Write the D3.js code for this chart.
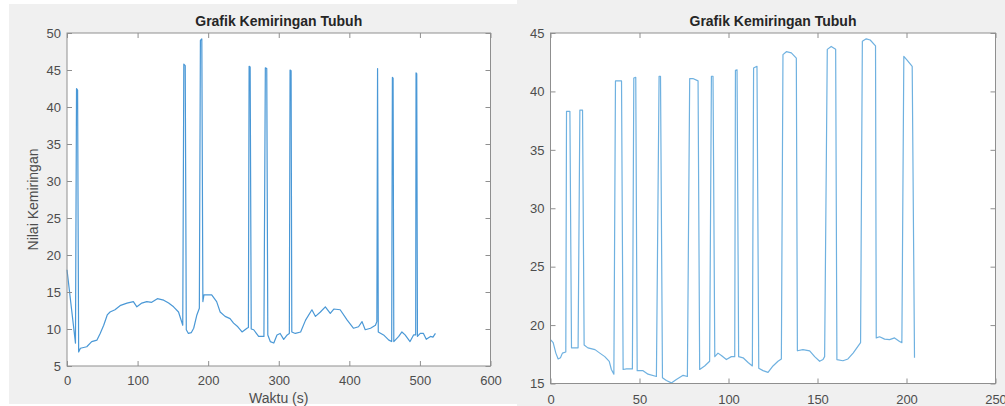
<!DOCTYPE html>
<html>
<head>
<meta charset="utf-8">
<script src="https://cdn.jsdelivr.net/npm/d3@7"></script>
<style>
  body { margin: 0; background: #fff; }
  svg { display: block; font-family: "Liberation Sans", Arial, Helvetica, sans-serif; }
  .tick text { fill: #4d4d4d; font-size: 13px; }
  .tick line { stroke: #8f8f8f; }
</style>
</head>
<body>
<script>
var width = 1005;
var height = 406;

// left plot: Waktu (s) vs Nilai Kemiringan
var leftTime = [0, 12, 13.5, 15, 16.5, 19, 28, 35, 42.5, 47, 52, 57, 61, 68, 76, 85, 94, 99, 106, 113,
  120, 128, 137, 144, 151, 158, 164, 165.5, 167.5, 169, 172, 176, 179.5, 184, 187.5, 189, 191, 192.5, 194, 205,
  212, 217, 224, 231, 236, 242, 248, 255, 257, 258, 259.5, 261, 264.5, 271.5, 279, 281, 283, 284.5, 288, 293,
  297.5, 302, 307, 312, 315, 316, 317.5, 318.5, 323.5, 331, 338, 347, 352, 359, 366, 373, 378, 387, 397, 406,
  413, 418, 422.5, 430, 437, 439, 440, 441, 448.5, 456, 460, 461, 462, 463, 470, 474.5, 479, 486, 491, 494,
  494.5, 495.5, 496.5, 500.5, 505, 509, 515, 518.5, 522];
var leftValue = [18.0, 8.1, 42.5, 42.3, 6.9, 7.4, 7.6, 8.3, 8.5, 9.4, 10.5, 11.9, 12.3, 12.6, 13.2, 13.5, 13.7, 13.0, 13.5, 13.7,
  13.6, 14.1, 13.9, 13.5, 13.0, 12.3, 10.5, 45.8, 45.6, 9.9, 9.4, 9.5, 10.1, 11.9, 12.8, 49.0, 49.2, 13.7, 14.6, 14.6,
  13.7, 12.3, 11.7, 11.4, 10.8, 10.3, 9.6, 10.1, 10.2, 45.5, 45.4, 10.0, 9.9, 9.0, 9.0, 45.3, 45.2, 9.2, 8.3, 8.1,
  9.2, 9.4, 8.6, 9.2, 9.4, 45.0, 44.9, 9.6, 9.4, 9.6, 11.2, 12.6, 11.7, 12.3, 13.0, 12.1, 12.7, 12.6, 11.2, 10.1,
  10.3, 11.0, 9.9, 10.1, 10.5, 11.0, 45.2, 9.6, 9.2, 8.5, 8.3, 44.0, 43.9, 8.3, 9.0, 9.6, 9.2, 8.3, 9.2, 9.2,
  44.6, 44.5, 9.0, 9.4, 9.4, 8.6, 9.0, 8.9, 9.4];
var leftXTicks = [0, 100, 200, 300, 400, 500, 600];
var leftYTicks = [5, 10, 15, 20, 25, 30, 35, 40, 45, 50];

// right plot
var rightTime = [0, 1.5, 3, 4.3, 5.6, 6.7, 8.6, 9, 10.9, 11.8, 15.5, 16.5, 18, 18.9, 21, 25, 27.7, 30.5, 33, 34.2,
  35.6, 36.5, 39.9, 40.8, 42.7, 46, 46.8, 47.9, 48.7, 52, 54.8, 59.5, 61, 61.8, 62.9, 65.1, 67.9, 70.7, 74.5, 76.9,
  78.2, 80, 82.9, 83.8, 86.6, 89.4, 90.4, 91.3, 92.3, 94.1, 96, 98.8, 101.6, 103.5, 103.9, 104.8, 105.7, 108.2, 111, 113.4,
  114.1, 116, 117, 119.4, 122.2, 125, 127.8, 129.7, 130.6, 132.5, 135.3, 138.1, 138.7, 141.8, 145.6, 148.4, 151.2, 153.1, 154, 155.5,
  157.7, 160.2, 160.9, 164.3, 167.1, 170, 172.8, 174.2, 175.2, 177.4, 179.6, 182.6, 183, 184.9, 187.7, 190.5, 193.3, 196.1, 197.4, 198.5,
  200.2, 203.2, 204.5];
var rightValue = [18.76, 18.5, 17.6, 17.1, 17.2, 17.6, 17.7, 38.3, 38.3, 18.05, 18.05, 38.4, 38.4, 18.3, 18.05, 17.9, 17.6, 17.3, 16.9, 16.2,
  15.8, 40.9, 40.9, 16.2, 16.25, 16.25, 41.15, 41.2, 16.1, 16.1, 15.8, 15.6, 41.3, 41.3, 15.5, 15.25, 15.05, 15.35, 15.7, 15.6,
  41.1, 41.1, 40.9, 16.2, 16.5, 16.9, 41.3, 41.3, 17.3, 17.6, 17.4, 17.05, 17.3, 17.3, 41.8, 41.85, 17.3, 17.2, 16.8, 16.5,
  42.0, 42.15, 16.3, 16.1, 15.95, 16.5, 16.9, 17.1, 43.15, 43.4, 43.3, 42.85, 17.8, 17.9, 17.8, 17.3, 16.9, 17.05, 17.3, 43.6,
  43.85, 43.6, 17.05, 16.95, 17.1, 17.6, 18.2, 18.5, 44.3, 44.5, 44.4, 43.9, 18.9, 19.0, 18.8, 18.75, 18.9, 18.6, 18.5, 43.0,
  42.7, 42.15, 17.2];
var rightXTicks = [0, 50, 100, 150, 200, 250];
var rightYTicks = [15, 20, 25, 30, 35, 40, 45];

var titleText = 'Grafik Kemiringan Tubuh';

var svg = d3.select('body').append('svg')
  .attr('width', width)
  .attr('height', height);

// the two gray figure backgrounds
svg.append('rect').attr('x', 9).attr('y', 4).attr('width', 508).attr('height', 400).attr('fill', '#f0f0f0');
svg.append('rect').attr('x', 517).attr('y', 0).attr('width', 488).attr('height', 406).attr('fill', '#f0f0f0');

function drawPlot(opts) {
  var w = opts.right - opts.left;
  var h = opts.bottom - opts.top;
  var g = svg.append('g').attr('transform', 'translate(' + opts.left + ',' + opts.top + ')');

  var x = d3.scaleLinear().domain(opts.xDomain).range([0, w]);
  var y = d3.scaleLinear().domain(opts.yDomain).range([h, 0]);

  g.append('rect').attr('width', w).attr('height', h).attr('fill', '#fff');

  var line = d3.line()
    .x(function (d, i) { return x(opts.time[i]); })
    .y(function (d) { return y(d); });

  g.append('path')
    .datum(opts.value)
    .attr('d', line)
    .attr('fill', 'none')
    .attr('stroke', opts.color)
    .attr('stroke-width', 1.2)
    .attr('stroke-linejoin', 'round');

  var bottom = g.append('g').attr('transform', 'translate(0,' + h + ')')
    .call(d3.axisBottom(x).tickValues(opts.xTicks).tickSizeInner(-5).tickSizeOuter(0).tickPadding(opts.xPad));
  var top = g.append('g')
    .call(d3.axisTop(x).tickValues(opts.xTicks).tickSizeInner(-5).tickSizeOuter(0).tickFormat(''));
  var left = g.append('g')
    .call(d3.axisLeft(y).tickValues(opts.yTicks).tickSizeInner(-5).tickSizeOuter(0).tickPadding(6));
  var right = g.append('g').attr('transform', 'translate(' + w + ',0)')
    .call(d3.axisRight(y).tickValues(opts.yTicks).tickSizeInner(-5).tickSizeOuter(0).tickFormat(''));
  [bottom, top, left, right].forEach(function (a) {
    a.select('.domain').remove();
    a.attr('font-family', null).attr('font-size', null);
  });

  g.append('rect').attr('width', w).attr('height', h)
    .attr('fill', 'none').attr('stroke', '#8f8f8f').attr('stroke-width', 1);

  svg.append('text')
    .attr('x', opts.left + w / 2).attr('y', 26)
    .attr('text-anchor', 'middle')
    .attr('font-size', 14).attr('font-weight', 'bold').attr('fill', '#262626')
    .text(titleText);

  if (opts.xLabel) {
    svg.append('text')
      .attr('x', opts.left + w / 2).attr('y', 403)
      .attr('text-anchor', 'middle')
      .attr('font-size', 14).attr('fill', '#4d4d4d')
      .text(opts.xLabel);
  }
  if (opts.yLabel) {
    svg.append('text')
      .attr('transform', 'translate(38,' + (opts.top + h / 2) + ') rotate(-90)')
      .attr('text-anchor', 'middle')
      .attr('font-size', 14).attr('fill', '#4d4d4d')
      .text(opts.yLabel);
  }
}

drawPlot({
  left: 67, right: 490.5, top: 33, bottom: 366,
  xDomain: [0, 600], yDomain: [5, 50],
  xTicks: leftXTicks, yTicks: leftYTicks, xPad: 10,
  time: leftTime, value: leftValue,
  color: '#4a98d6',
  xLabel: 'Waktu (s)', yLabel: 'Nilai Kemiringan'
});

drawPlot({
  left: 550.5, right: 995.5, top: 33, bottom: 383.5,
  xDomain: [0, 250], yDomain: [15, 45],
  xTicks: rightXTicks, yTicks: rightYTicks, xPad: 11,
  time: rightTime, value: rightValue,
  color: '#6fb1e0'
});
</script>
</body>
</html>
